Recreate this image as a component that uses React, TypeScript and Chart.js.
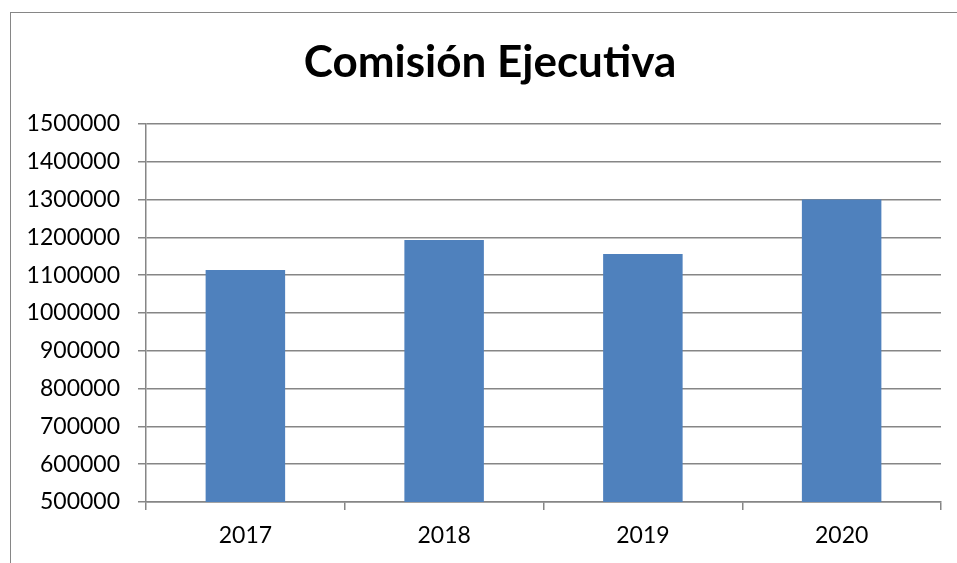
import React, { useEffect, useRef } from "react";
import { Chart, registerables } from "chart.js";

Chart.register(...registerables);

const categories = ["2017", "2018", "2019", "2020"];
const values = [1114000, 1193000, 1156000, 1300000];
const yMin = 500000;
const yMax = 1500000;
const yStep = 100000;
const titleText = "Comisión Ejecutiva";

const titleShift = {
  id: "titleShift",
  afterLayout(chart: any) {
    const t = chart.titleBlock;
    if (t) {
      t.left = 39;
      t.right = chart.chartArea.right;
    }
  },
};

export default function App() {
  const ref = useRef<HTMLCanvasElement | null>(null);

  useEffect(() => {
    if (!ref.current) return;
    const chart = new Chart(ref.current, {
      type: "bar",
      data: {
        labels: categories,
        datasets: [
          {
            data: values,
            backgroundColor: "#4f81bd",
            borderWidth: 0,
            barPercentage: 0.4,
            categoryPercentage: 1,
          },
        ],
      },
      plugins: [titleShift],
      options: {
        responsive: false,
        animation: false,
        devicePixelRatio: 1,
        layout: { padding: { left: 0, right: 16, top: 0, bottom: 0 } },
        plugins: {
          legend: { display: false },
          tooltip: { enabled: false },
          title: {
            display: true,
            text: titleText,
            color: "#000",
            font: { family: "Lato", size: 44, weight: "bold", lineHeight: 1.2 },
            padding: { top: 36.4, bottom: 34.8 },
          },
        },
        scales: {
          x: {
            offset: true,
            grid: {
              offset: true,
              drawOnChartArea: false,
              drawTicks: true,
              tickLength: 8,
              color: "#868686",
              lineWidth: 1.5,
            },
            border: { display: true, color: "#868686", width: 1.5 },
            ticks: {
              color: "#000",
              font: { family: "Lato", size: 23 },
              padding: 12,
              maxRotation: 0,
            },
            afterFit: (s: any) => {
              s.height = 61;
            },
          },
          y: {
            min: yMin,
            max: yMax,
            grid: {
              color: "#868686",
              lineWidth: 1.5,
              drawTicks: true,
              tickLength: 8,
            },
            border: { display: true, color: "#868686", width: 1.5 },
            ticks: {
              stepSize: yStep,
              color: "#000",
              font: { family: "Lato", size: 23 },
              padding: 18,
              callback: (v: any) => String(v),
            },
            afterFit: (s: any) => {
              s.width = 146;
            },
          },
        },
      },
    });
    return () => chart.destroy();
  }, []);

  return (
    <div style={{ position: "fixed", left: 0, top: 0, width: 957, height: 563, background: "#fff" }}>
      <div
        style={{
          position: "absolute",
          left: 10,
          top: 12,
          right: 0,
          bottom: 0,
          borderLeft: "1.5px solid #868686",
          borderTop: "1.5px solid #868686",
        }}
      />
      <canvas ref={ref} width={957} height={563} style={{ position: "absolute", left: 0, top: 0 }} />
    </div>
  );
}
